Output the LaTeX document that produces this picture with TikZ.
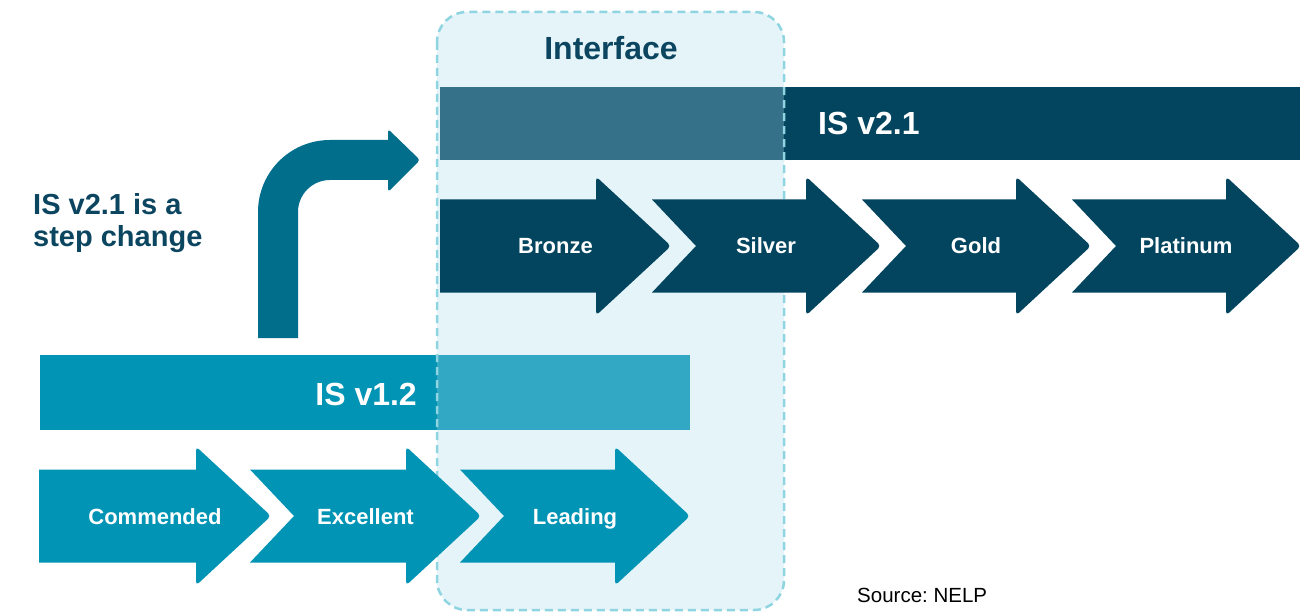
\documentclass[tikz,border=0pt]{standalone}
\usepackage{fontspec}
\setmainfont{Liberation Sans}
\frenchspacing
\definecolor{boxfill}{HTML}{E4F4F8}
\definecolor{boxline}{HTML}{8FD4E1}
\definecolor{darkblue}{HTML}{03445F}
\definecolor{darkbluelight}{HTML}{357189}
\definecolor{tealblue}{HTML}{0294B5}
\definecolor{teallight}{HTML}{33A8C4}
\definecolor{bentcol}{HTML}{016E8C}
\definecolor{textdark}{HTML}{0B4560}
% chevron: #1 left x, #2 notch x, #3 head base x, #4 tip x, #5 mid y, #6 colour
\newcommand\mychev[6]{%
  \fill[#6] (#1,#5-46.5) -- (#3,#5-46.5)
    {[rounded corners=4pt] -- (#3,#5-69.5) -- (#4,#5) -- (#3,#5+69.5)}
    -- (#3,#5+46.5) -- (#1,#5+46.5) -- (#2,#5) -- cycle;}
\tikzset{
  steplabel/.style={text=white,font=\bfseries\fontsize{22}{26}\selectfont,anchor=base,inner sep=0pt},
  barlabel/.style={text=white,font=\bfseries\fontsize{32}{38}\selectfont,inner sep=0pt},
  titlelabel/.style={text=textdark,font=\bfseries\fontsize{32}{38}\selectfont,inner sep=0pt},
  sidelabel/.style={text=textdark,font=\bfseries\fontsize{29}{33}\selectfont,anchor=base west,inner sep=0pt},
}
\begin{document}
\begin{tikzpicture}[x=1pt,y=-1pt]
\useasboundingbox (0,0) rectangle (1316,612);
% interface box fill
\fill[boxfill,rounded corners=30pt] (437,12) rectangle (784,610);
% bars
\fill[darkbluelight] (440,87) rectangle (784,160);
\fill[darkblue] (784,87) rectangle (1300,160);
\fill[tealblue] (40,355) rectangle (437,430);
\fill[teallight] (437,355) rectangle (690,430);
% dashed border
\draw[boxline,line width=2.5pt,dash pattern=on 8pt off 5pt,rounded corners=30pt] (437,12) rectangle (784,610);
% upper chevrons
\fill[darkblue] (440,199.5) -- (596,199.5)
    {[rounded corners=4pt] -- (596,176.5) -- (671,246) -- (596,315.5)}
    -- (596,292.5) -- (440,292.5) -- cycle;
\mychev{652}{696}{806}{881}{246}{darkblue}
\mychev{862}{906}{1016}{1091}{246}{darkblue}
\mychev{1072}{1116}{1226}{1301}{246}{darkblue}
% lower chevrons
\fill[tealblue] (39,469.5) -- (196,469.5)
    {[rounded corners=4pt] -- (196,446.5) -- (271,516) -- (196,585.5)}
    -- (196,562.5) -- (39,562.5) -- cycle;
\mychev{250}{294}{406}{481}{516}{tealblue}
\mychev{460}{504}{615}{690}{516}{tealblue}
% bent arrow
\fill[bentcol] (258,338) -- (258,212) .. controls (258,172.2) and (290.2,140) .. (330,140)
  -- (388,140) {[rounded corners=3pt] -- (388,129) -- (420,160) -- (388,192)} -- (388,180)
  -- (330,180) .. controls (312.3,180) and (298,194.3) .. (298,212) -- (298,338) -- cycle;
% texts
\node[titlelabel,anchor=base] (interface) at (611,60) {Interface};
\node[barlabel,anchor=base west] (v21) at (818,135) {IS v2.1};
\node[barlabel,anchor=base east] (v12) at (417,405) {IS v1.2};
\node[sidelabel] (step1) at (33,215) {IS v2.1 is a};
\node[sidelabel] (step2) at (33,247) {step change};
\node[steplabel] (bronze) at (555.5,254) {Bronze};
\node[steplabel] (silver) at (766,254) {Silver};
\node[steplabel] (gold) at (976,254) {Gold};
\node[steplabel] (platinum) at (1186,254) {Platinum};
\node[steplabel] (commended) at (155,524) {Commended};
\node[steplabel] (excellent) at (365.5,524) {Excellent};
\node[steplabel] (leading) at (575,524) {Leading};
\node[text=black,font=\fontsize{20.5}{24}\selectfont,anchor=base west,inner sep=0pt] (source) at (857,602) {Source: NELP};
\end{tikzpicture}
\end{document}
